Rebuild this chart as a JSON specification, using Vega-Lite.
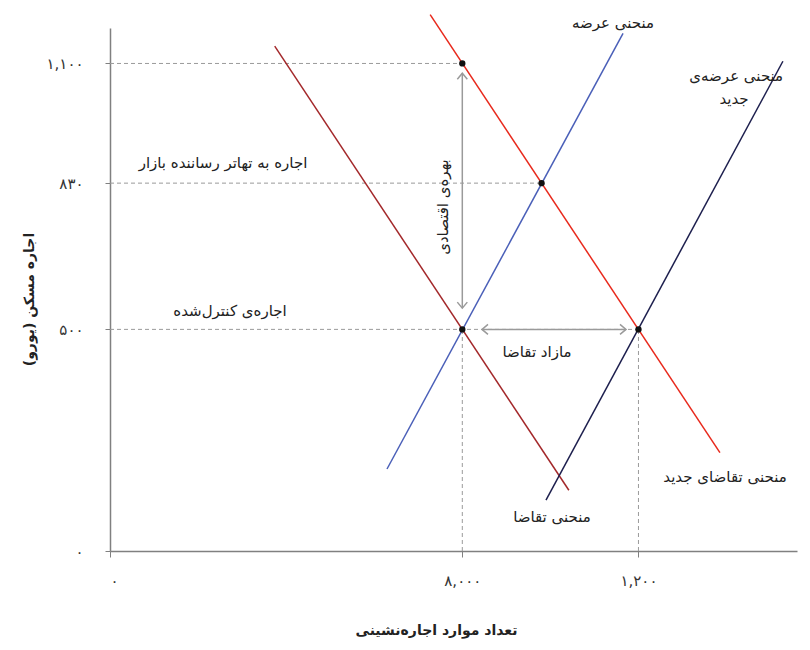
{
  "$schema": "https://vega.github.io/schema/vega-lite/v6.json",
  "width": 687,
  "height": 523,
  "autosize": {"type": "none"},
  "padding": {"left": 110, "top": 28, "right": 13, "bottom": 99},
  "config": {
    "view": {"stroke": null},
    "font": "DejaVu Sans",
    "text": {"font": "DejaVu Sans"}
  },
  "datasets": {
    "curves": [
      {"curve": "demand", "x": 3740, "y": 1139},
      {"curve": "demand", "x": 10420, "y": 137},
      {"curve": "newDemand", "x": 7270, "y": 1210},
      {"curve": "newDemand", "x": 13850, "y": 222},
      {"curve": "supply", "x": 6290, "y": 185},
      {"curve": "supply", "x": 11650, "y": 1168},
      {"curve": "newSupply", "x": 9900, "y": 115},
      {"curve": "newSupply", "x": 15280, "y": 1105}
    ],
    "guides": [
      {"x": 0, "y": 1100, "x2": 8000, "y2": 1100},
      {"x": 0, "y": 830, "x2": 9800, "y2": 830},
      {"x": 0, "y": 500, "x2": 12000, "y2": 500},
      {"x": 8000, "y": 0, "x2": 8000, "y2": 500},
      {"x": 12000, "y": 0, "x2": 12000, "y2": 500}
    ],
    "shafts": [
      {"x": 8000, "y": 1078, "x2": 8000, "y2": 548},
      {"x": 8447, "y": 500, "x2": 11717, "y2": 500}
    ],
    "heads": [
      {"x": 8000, "y": 1078, "dir": "up"},
      {"x": 8000, "y": 548, "dir": "down"},
      {"x": 8447, "y": 500, "dir": "left"},
      {"x": 11717, "y": 500, "dir": "right"}
    ],
    "points": [
      {"x": 8000, "y": 1100},
      {"x": 9800, "y": 830},
      {"x": 8000, "y": 500},
      {"x": 12000, "y": 500}
    ],
    "labels": [
      {"label": "منحنی عرضه", "x": 11420, "y": 1191},
      {"label": "منحنی عرضه\u200cی", "x": 14220, "y": 1072},
      {"label": "جدید", "x": 14170, "y": 1020},
      {"label": "اجاره به تهاتر رساننده بازار", "x": 2566, "y": 875},
      {"label": "اجاره\u200cی کنترل\u200cشده", "x": 2725, "y": 541},
      {"label": "منحنی تقاضای جدید", "x": 13965, "y": 167},
      {"label": "منحنی تقاضا", "x": 10036, "y": 77},
      {"label": "مازاد تقاضا", "x": 9696, "y": 449}
    ],
    "vlabels": [
      {"label": "بهره\u200cی اقتصادی", "x": 7561, "y": 776}
    ]
  },
  "encoding": {
    "x": {
      "field": "x",
      "type": "quantitative",
      "scale": {"domain": [0, 15600], "nice": false, "zero": false},
      "axis": {
        "values": [0, 8000, 12000],
        "labelExpr": "datum.value == 0 ? '۰' : datum.value == 8000 ? '۸,۰۰۰' : '۱,۲۰۰'",
        "grid": false,
        "domainColor": "#808080",
        "domainWidth": 1.5,
        "tickColor": "#808080",
        "tickSize": 6,
        "labelPadding": 16,
        "labelFontSize": 15,
        "labelColor": "#333333",
        "title": "تعداد موارد اجاره\u200cنشینی",
        "titleFontSize": 14,
        "titleFontWeight": "bold",
        "titleColor": "#222222",
        "titleX": 326,
        "titleY": 79,
        "titleBaseline": "middle"
      }
    },
    "y": {
      "field": "y",
      "type": "quantitative",
      "scale": {"domain": [0, 1180], "nice": false, "zero": false},
      "axis": {
        "values": [0, 500, 830, 1100],
        "labelExpr": "datum.value == 0 ? '۰' : datum.value == 500 ? '۵۰۰' : datum.value == 830 ? '۸۳۰' : '۱,۱۰۰'",
        "grid": false,
        "domainColor": "#808080",
        "domainWidth": 1.5,
        "tickColor": "#808080",
        "tickSize": 5,
        "labelPadding": 22,
        "labelFontSize": 15,
        "labelColor": "#333333",
        "title": "اجاره مسکن (یورو)",
        "titleFontSize": 14,
        "titleFontWeight": "bold",
        "titleColor": "#222222",
        "titleX": -81,
        "titleY": 271,
        "titleBaseline": "middle",
        "titleAlign": "center"
      }
    }
  },
  "layer": [
    {
      "data": {"name": "guides"},
      "mark": {"type": "rule", "color": "#9a9a9a", "strokeWidth": 1, "strokeDash": [4, 3]},
      "encoding": {"x2": {"field": "x2"}, "y2": {"field": "y2"}}
    },
    {
      "data": {"name": "curves"},
      "mark": {"type": "line", "strokeWidth": 1.5},
      "encoding": {
        "color": {
          "field": "curve",
          "type": "nominal",
          "scale": {
            "domain": ["demand", "newDemand", "supply", "newSupply"],
            "range": ["#a3282a", "#e8291c", "#4a5fb8", "#1d1f4e"]
          },
          "legend": null
        },
        "detail": {"field": "curve"}
      }
    },
    {
      "data": {"name": "shafts"},
      "mark": {"type": "rule", "color": "#9a9a9a", "strokeWidth": 1.5},
      "encoding": {"x2": {"field": "x2"}, "y2": {"field": "y2"}}
    },
    {
      "data": {"name": "heads"},
      "mark": {"type": "point", "filled": false, "color": "#9a9a9a", "strokeWidth": 1.5, "opacity": 1, "size": 100},
      "encoding": {
        "shape": {
          "field": "dir",
          "type": "nominal",
          "scale": {
            "domain": ["up", "down", "left", "right"],
            "range": ["M-1,1.2L0,0L1,1.2", "M-1,-1.2L0,0L1,-1.2", "M1.2,-1L0,0L1.2,1", "M-1.2,-1L0,0L-1.2,1"]
          },
          "legend": null
        }
      }
    },
    {
      "data": {"name": "points"},
      "mark": {"type": "point", "filled": true, "color": "#111111", "opacity": 1, "size": 40}
    },
    {
      "data": {"name": "labels"},
      "mark": {"type": "text", "fontSize": 15, "color": "#222222", "align": "center", "baseline": "middle"},
      "encoding": {"text": {"field": "label"}}
    },
    {
      "data": {"name": "vlabels"},
      "mark": {"type": "text", "fontSize": 15, "color": "#222222", "align": "center", "baseline": "middle", "angle": 270},
      "encoding": {"text": {"field": "label"}}
    }
  ]
}
